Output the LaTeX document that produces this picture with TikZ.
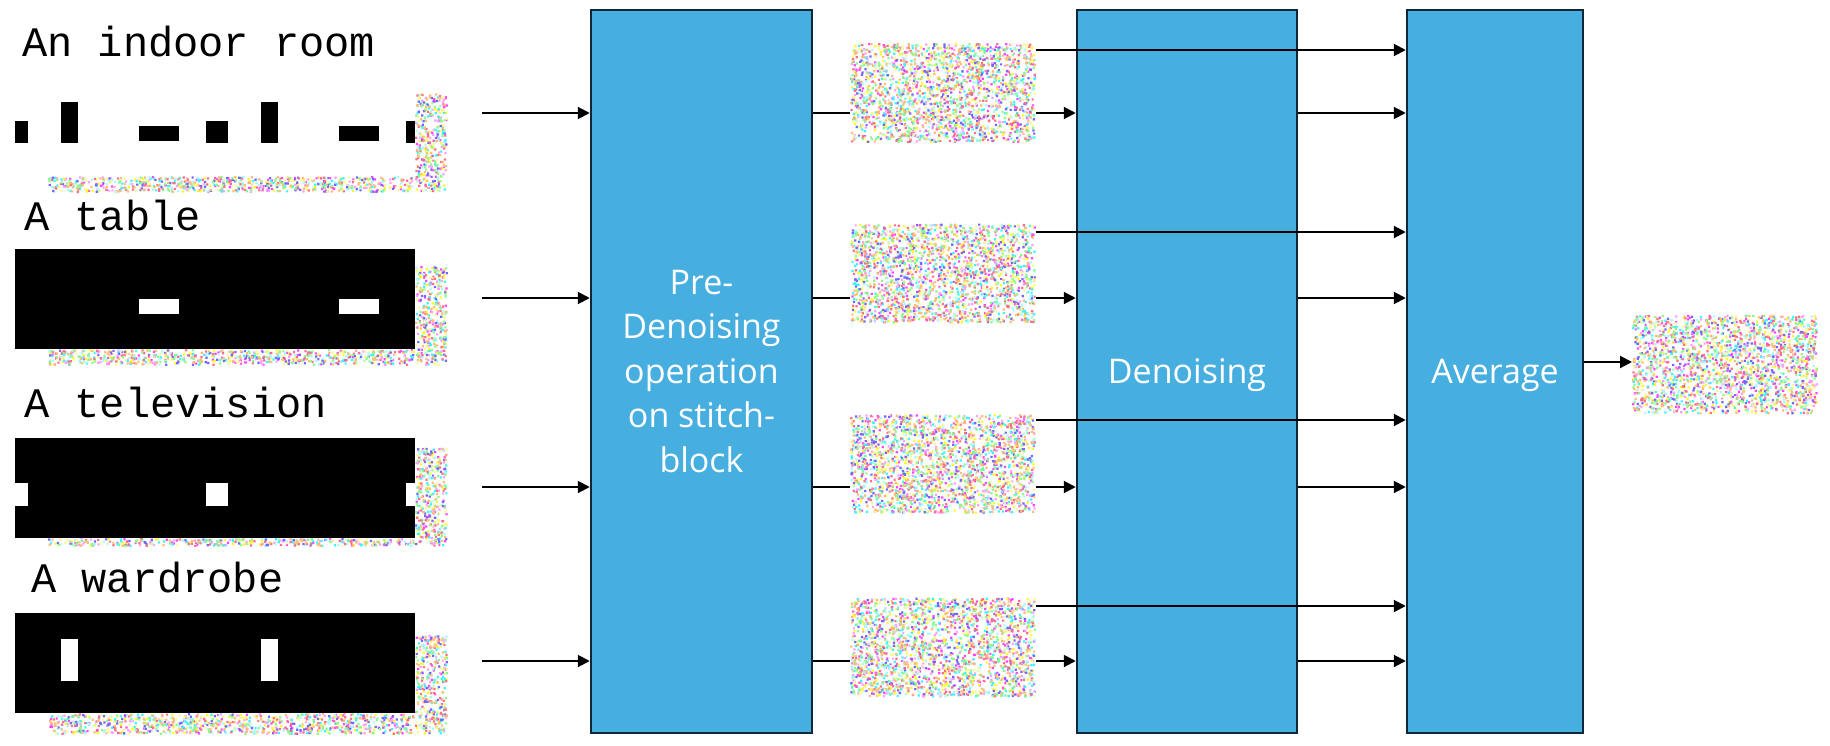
\documentclass[tikz,border=0pt]{standalone}
\usepackage{fontspec}
\newfontfamily\boxfont{Open Sans}
\newfontfamily\labfont{Liberation Mono}
\usetikzlibrary{arrows.meta}
\definecolor{boxblue}{RGB}{71,174,224}
\definecolor{boxedge}{RGB}{14,40,58}
\definecolor{nc1}{RGB}{255,70,255}
\definecolor{nc2}{RGB}{255,160,255}
\definecolor{nc3}{RGB}{255,250,40}
\definecolor{nc4}{RGB}{250,250,150}
\definecolor{nc5}{RGB}{60,245,255}
\definecolor{nc6}{RGB}{170,250,255}
\definecolor{nc7}{RGB}{120,100,255}
\definecolor{nc8}{RGB}{255,110,140}
\definecolor{nc9}{RGB}{140,250,140}
\definecolor{nc10}{RGB}{255,190,120}
% #1 x0, #2 y0, #3 width, #4 height, #5 dots per colour
\newcommand{\noisefill}[5]{%
  \foreach \c in {1,...,10}{%
    \fill[nc\c] \foreach \k in {1,...,#5} {({#1+rnd*(#3-2.2)},{#2+rnd*(#4-2.2)}) rectangle ++(2.2,2.2)};%
  }%
}
\tikzset{
  proc/.style={draw=boxedge, line width=2.5pt, fill=boxblue, text=white,
    font=\boxfont\fontsize{34}{44.5}\selectfont, align=center, inner sep=0pt},
  noiseimg/.style={minimum width=186pt, minimum height=100pt, inner sep=0pt, outer sep=0pt, fill=white},
  maskbox/.style={minimum width=400pt, minimum height=100pt, inner sep=0pt, outer sep=0pt},
  lab/.style={font=\labfont\fontsize{42}{50}\selectfont, inner sep=0pt, anchor=base west},
  conn/.style={line width=2pt},
  arr/.style={line width=2pt, -{Triangle[length=12pt,width=12pt]}}
}
\begin{document}
\begin{tikzpicture}[x=1pt,y=-1pt]
\useasboundingbox (0,0) rectangle (1830,745);
\pgfmathsetseed{12345}
% labels
\node[lab] (t1) at (22,56) {An indoor room};
\node[lab] (t2) at (24,230) {A table};
\node[lab] (t3) at (24,417) {A television};
\node[lab] (t4) at (31,592) {A wardrobe};
% noise behind masks (visible strips)
\noisefill{415}{93}{33}{100}{38}
\noisefill{48}{176}{367}{17}{73}
\noisefill{415}{266}{33}{100}{38}
\noisefill{48}{349}{367}{17}{73}
\noisefill{415}{447}{33}{100}{38}
\noisefill{48}{538}{367}{9}{38}
\noisefill{415}{635}{33}{100}{38}
\noisefill{48}{713}{367}{22}{94}
% masks
\node[maskbox, fill=white] (m1) at (215,126) {};
\fill[black] (15,121) rectangle (28,143);
\fill[black] (61,102) rectangle (78,143);
\fill[black] (139,126) rectangle (179,141);
\fill[black] (206,121) rectangle (228,143);
\fill[black] (261,102) rectangle (278,143);
\fill[black] (339,126) rectangle (379,141);
\fill[black] (406,121) rectangle (415,143);
\node[maskbox, fill=black] (m2) at (215,299) {};
\fill[white] (139,299) rectangle (179,314);
\fill[white] (339,299) rectangle (379,314);
\node[maskbox, fill=black] (m3) at (215,488) {};
\fill[white] (15,483) rectangle (28,506);
\fill[white] (206,483) rectangle (228,506);
\fill[white] (406,483) rectangle (415,506);
\node[maskbox, fill=black] (m4) at (215,663) {};
\fill[white] (61,639) rectangle (78,681);
\fill[white] (261,639) rectangle (278,681);
% process boxes
\node[proc, minimum width=221pt, minimum height=723pt] (box1) at (701.5,371.5)
  {Pre-\\Denoising\\operation\\on stitch-\\block};
\node[proc, text depth=0pt, minimum width=220pt, minimum height=723pt] (box2) at (1187,371.5) {Denoising};
\node[proc, text depth=0pt, minimum width=176pt, minimum height=723pt] (box3) at (1495,371.5) {Average};
% noise images
\node[noiseimg] (n1) at (943,93) {};
\noisefill{850}{43}{186}{100}{220}
\node[noiseimg] (n2) at (943,273.5) {};
\noisefill{850}{223.5}{186}{100}{220}
\node[noiseimg] (n3) at (943,464) {};
\noisefill{850}{414}{186}{100}{220}
\node[noiseimg] (n4) at (943,647.5) {};
\noisefill{850}{597.5}{186}{100}{220}
\node[noiseimg] (nout) at (1725,364.5) {};
\noisefill{1632}{314.5}{186}{100}{220}
% connectors
\coordinate (s1) at (482,113);
\coordinate (s2) at (482,298);
\coordinate (s3) at (482,487);
\coordinate (s4) at (482,661);
\coordinate (u1) at (1036,50);
\coordinate (u2) at (1036,232);
\coordinate (u3) at (1036,420);
\coordinate (u4) at (1036,606);
\coordinate (o) at (1583,362);
\foreach \i in {1,2,3,4}{
  \draw[arr] (s\i) -- (s\i -| box1.west);
  \draw[conn] (s\i -| box1.east) -- (s\i -| n\i.west);
  \draw[arr] (s\i -| n\i.east) -- (s\i -| box2.west);
  \draw[arr] (s\i -| box2.east) -- (s\i -| box3.west);
  \draw[arr] (u\i -| n\i.east) -- (u\i -| box3.west);
}
\draw[arr] (o -| box3.east) -- (o -| nout.west);
\end{tikzpicture}
\end{document}
